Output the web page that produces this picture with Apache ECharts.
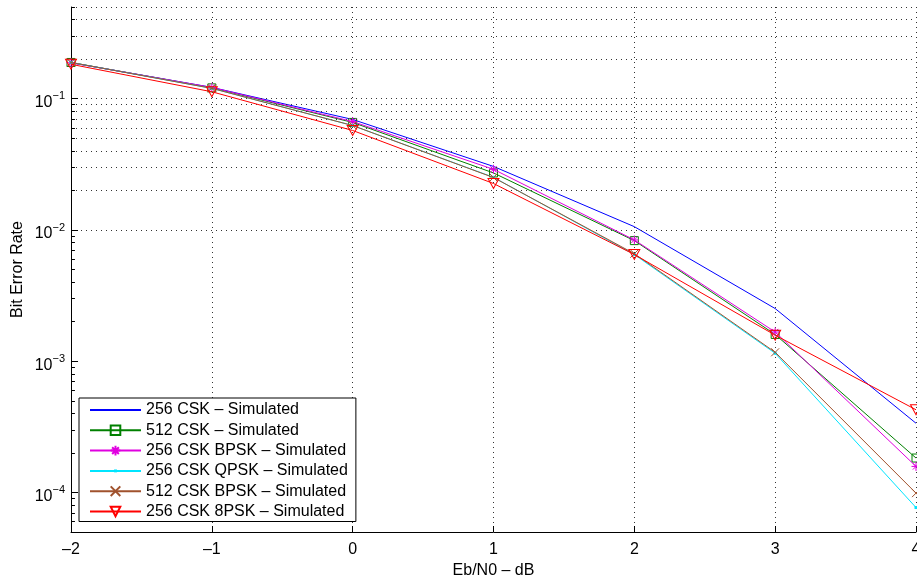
<!DOCTYPE html>
<html><head><meta charset="utf-8">
<script src="https://cdn.jsdelivr.net/npm/echarts@6/dist/echarts.min.js"></script>
<style>html,body{margin:0;padding:0;background:#fff}#c{width:917px;height:577px}</style>
</head><body><div id="c"></div>
<script>
// ---- data ----
const ebN0 = [-2, -1, 0, 1, 2, 3, 4];
const xTicks = [-2, -1, 0, 1, 2, 3, 4];
const yDecadeExps = [-5, -4, -3, -2, -1];
const yMultipliers = [1, 2, 3, 4, 5, 6, 7, 8, 9];
const yMin = 5e-5, yMax = 0.5;

const ber256CSK      = [0.188, 0.122, 0.0695, 0.0305, 0.0106, 0.00252, 0.000337];
const ber512CSK      = [0.189, 0.121, 0.0660, 0.0272, 0.0083, 0.00160, 0.000183];
const ber256CSKBPSK  = [0.188, 0.122, 0.0670, 0.0290, 0.0084, 0.00167, 0.000158];
const ber256CSKQPSK  = [0.189, 0.120, 0.0625, 0.0252, 0.0065, 0.00115, 0.0000768];
const ber512CSKBPSK  = [0.189, 0.120, 0.0625, 0.0251, 0.0066, 0.00117, 0.0000989];
const ber256CSK8PSK  = [0.183, 0.113, 0.0573, 0.0226, 0.0065, 0.00158, 0.000427];

const names = [
  '256 CSK – Simulated',
  '512 CSK – Simulated',
  '256 CSK BPSK – Simulated',
  '256 CSK QPSK – Simulated',
  '512 CSK BPSK – Simulated',
  '256 CSK 8PSK – Simulated'
];
const values = [ber256CSK, ber512CSK, ber256CSKBPSK, ber256CSKQPSK, ber512CSKBPSK, ber256CSK8PSK];
const colors = ['#0000ff', '#008000', '#e000e0', '#00e5ff', '#a0522d', '#ff0000'];

// ---- styling ----
const FONT = '"Liberation Sans", Arial, Helvetica, sans-serif';
const symbols = [
  {symbol: 'circle', symbolSize: 4, show: false, invisible: true},
  {symbol: 'rect', symbolSize: 8, hollow: true},
  {symbol: 'path://M5,0L5,10M0,5L10,5M1.5,1.5L8.5,8.5M1.5,8.5L8.5,1.5', symbolSize: 9, hollow: true},
  {symbol: 'path://M0,0M10,10M3.5,3.5L6.5,3.5L6.5,6.5L3.5,6.5Z', symbolSize: 10, hollow: false},
  {symbol: 'path://M0,0L10,10M0,10L10,0', symbolSize: 8, hollow: true},
  {symbol: 'path://M0,0L10,0L5,8.66Z', symbolSize: [11, 10], hollow: true}
];

// grid / tick values for the log axis
const gridVals = [];
yDecadeExps.forEach(e => yMultipliers.forEach(m => {
  const v = m * Math.pow(10, e);
  if (v >= yMin * (1 - 1e-9) && v <= yMax * (1 + 1e-9)) gridVals.push(v);
}));
const isPow10 = v => Math.abs(Math.log10(v) - Math.round(Math.log10(v))) < 1e-6;

const series = names.map((n, i) => {
  const s = symbols[i];
  let itemStyle;
  if (s.invisible) itemStyle = {color: 'rgba(0,0,0,0)', borderWidth: 0};
  else if (s.hollow) itemStyle = {color: 'rgba(255,255,255,0)', borderColor: colors[i], borderWidth: 1};
  else itemStyle = {color: colors[i], borderWidth: 0};
  return {
    name: n,
    type: 'line',
    data: ebN0.map((x, j) => [x, values[i][j]]),
    symbol: s.symbol,
    symbolSize: s.symbolSize,
    showSymbol: s.show !== false,
    lineStyle: {color: colors[i], width: 1},
    itemStyle: itemStyle,
    emphasis: {disabled: true},
    silent: true,
    z: 3 + i
  };
});

// dotted grid lines (major + minor) in y
series.push({
  name: '_grid', type: 'line', data: [], silent: true, z: 1,
  markLine: {
    silent: true, symbol: ['none', 'none'], label: {show: false}, animation: false,
    lineStyle: {type: [1, 4], color: '#333', width: 1},
    emphasis: {disabled: true},
    data: gridVals.map(v => ({yAxis: v}))
  }
});
// inward ticks on y axis (major longer, minor shorter)
series.push({
  name: '_ticks', type: 'line', data: [], silent: true, z: 2,
  markLine: {
    silent: true, symbol: ['none', 'none'], label: {show: false}, animation: false,
    lineStyle: {type: 'solid', color: '#000', width: 1},
    emphasis: {disabled: true},
    data: gridVals.map(v => [{coord: [xTicks[0], v]}, {coord: [xTicks[0] + (isPow10(v) ? 0.05 : 0.028), v]}])
  }
});

const chart = echarts.init(document.getElementById('c'), null, {renderer: 'canvas'});
chart.setOption({
  animation: false,
  backgroundColor: '#fff',
  textStyle: {fontFamily: FONT},
  grid: {left: 71, right: 1, top: 7, bottom: 45, containLabel: false, outerBoundsMode: 'none'},
  xAxis: {
    type: 'value', min: -2, max: 4, interval: 1,
    name: 'Eb/N0 – dB', nameLocation: 'middle', nameGap: 31, nameMoveOverlap: false,
    nameTextStyle: {fontSize: 16, color: '#000', fontFamily: FONT},
    axisLine: {show: true, onZero: false, lineStyle: {color: '#000', width: 1}},
    axisTick: {show: true, inside: true, length: 6, lineStyle: {color: '#000'}},
    axisLabel: {fontSize: 16, color: '#000', fontFamily: FONT, margin: 10,
      formatter: v => (v < 0 ? '–' + Math.abs(v) : String(v))},
    splitLine: {show: true, lineStyle: {type: [1, 4], color: '#333', width: 1}}
  },
  yAxis: {
    type: 'log', logBase: 10, min: yMin, max: yMax,
    name: 'Bit Error Rate', nameLocation: 'middle', nameGap: 45, nameRotate: 90, nameMoveOverlap: false,
    nameTextStyle: {fontSize: 16, color: '#000', fontFamily: FONT},
    axisLine: {show: true, onZero: false, lineStyle: {color: '#000', width: 1}},
    axisTick: {show: false},
    splitLine: {show: false},
    minorTick: {show: false},
    axisLabel: {
      color: '#000', margin: 6, showMinLabel: true, showMaxLabel: true,
      formatter: v => {
        if (!isPow10(v)) return '';
        const e = Math.round(Math.log10(v));
        return '{b|10}{s|' + (e < 0 ? '−' + Math.abs(e) : e) + '}';
      },
      rich: {
        b: {fontSize: 16, fontFamily: FONT, color: '#000', lineHeight: 16, padding: [8, 0, 0, 0]},
        s: {fontSize: 11, fontFamily: FONT, color: '#000', lineHeight: 11, verticalAlign: 'top'}
      }
    }
  },
  legend: {
    orient: 'vertical', left: 79, top: 398,
    data: names,
    itemWidth: 51, itemHeight: 12, itemGap: 4.3,
    padding: [4, 8, 2, 10],
    borderColor: '#000', borderWidth: 1, backgroundColor: '#fff',
    textStyle: {fontSize: 16, color: '#000', fontFamily: FONT, lineHeight: 16},
    selectedMode: false
  },
  series: series
});
</script>
</body></html>
